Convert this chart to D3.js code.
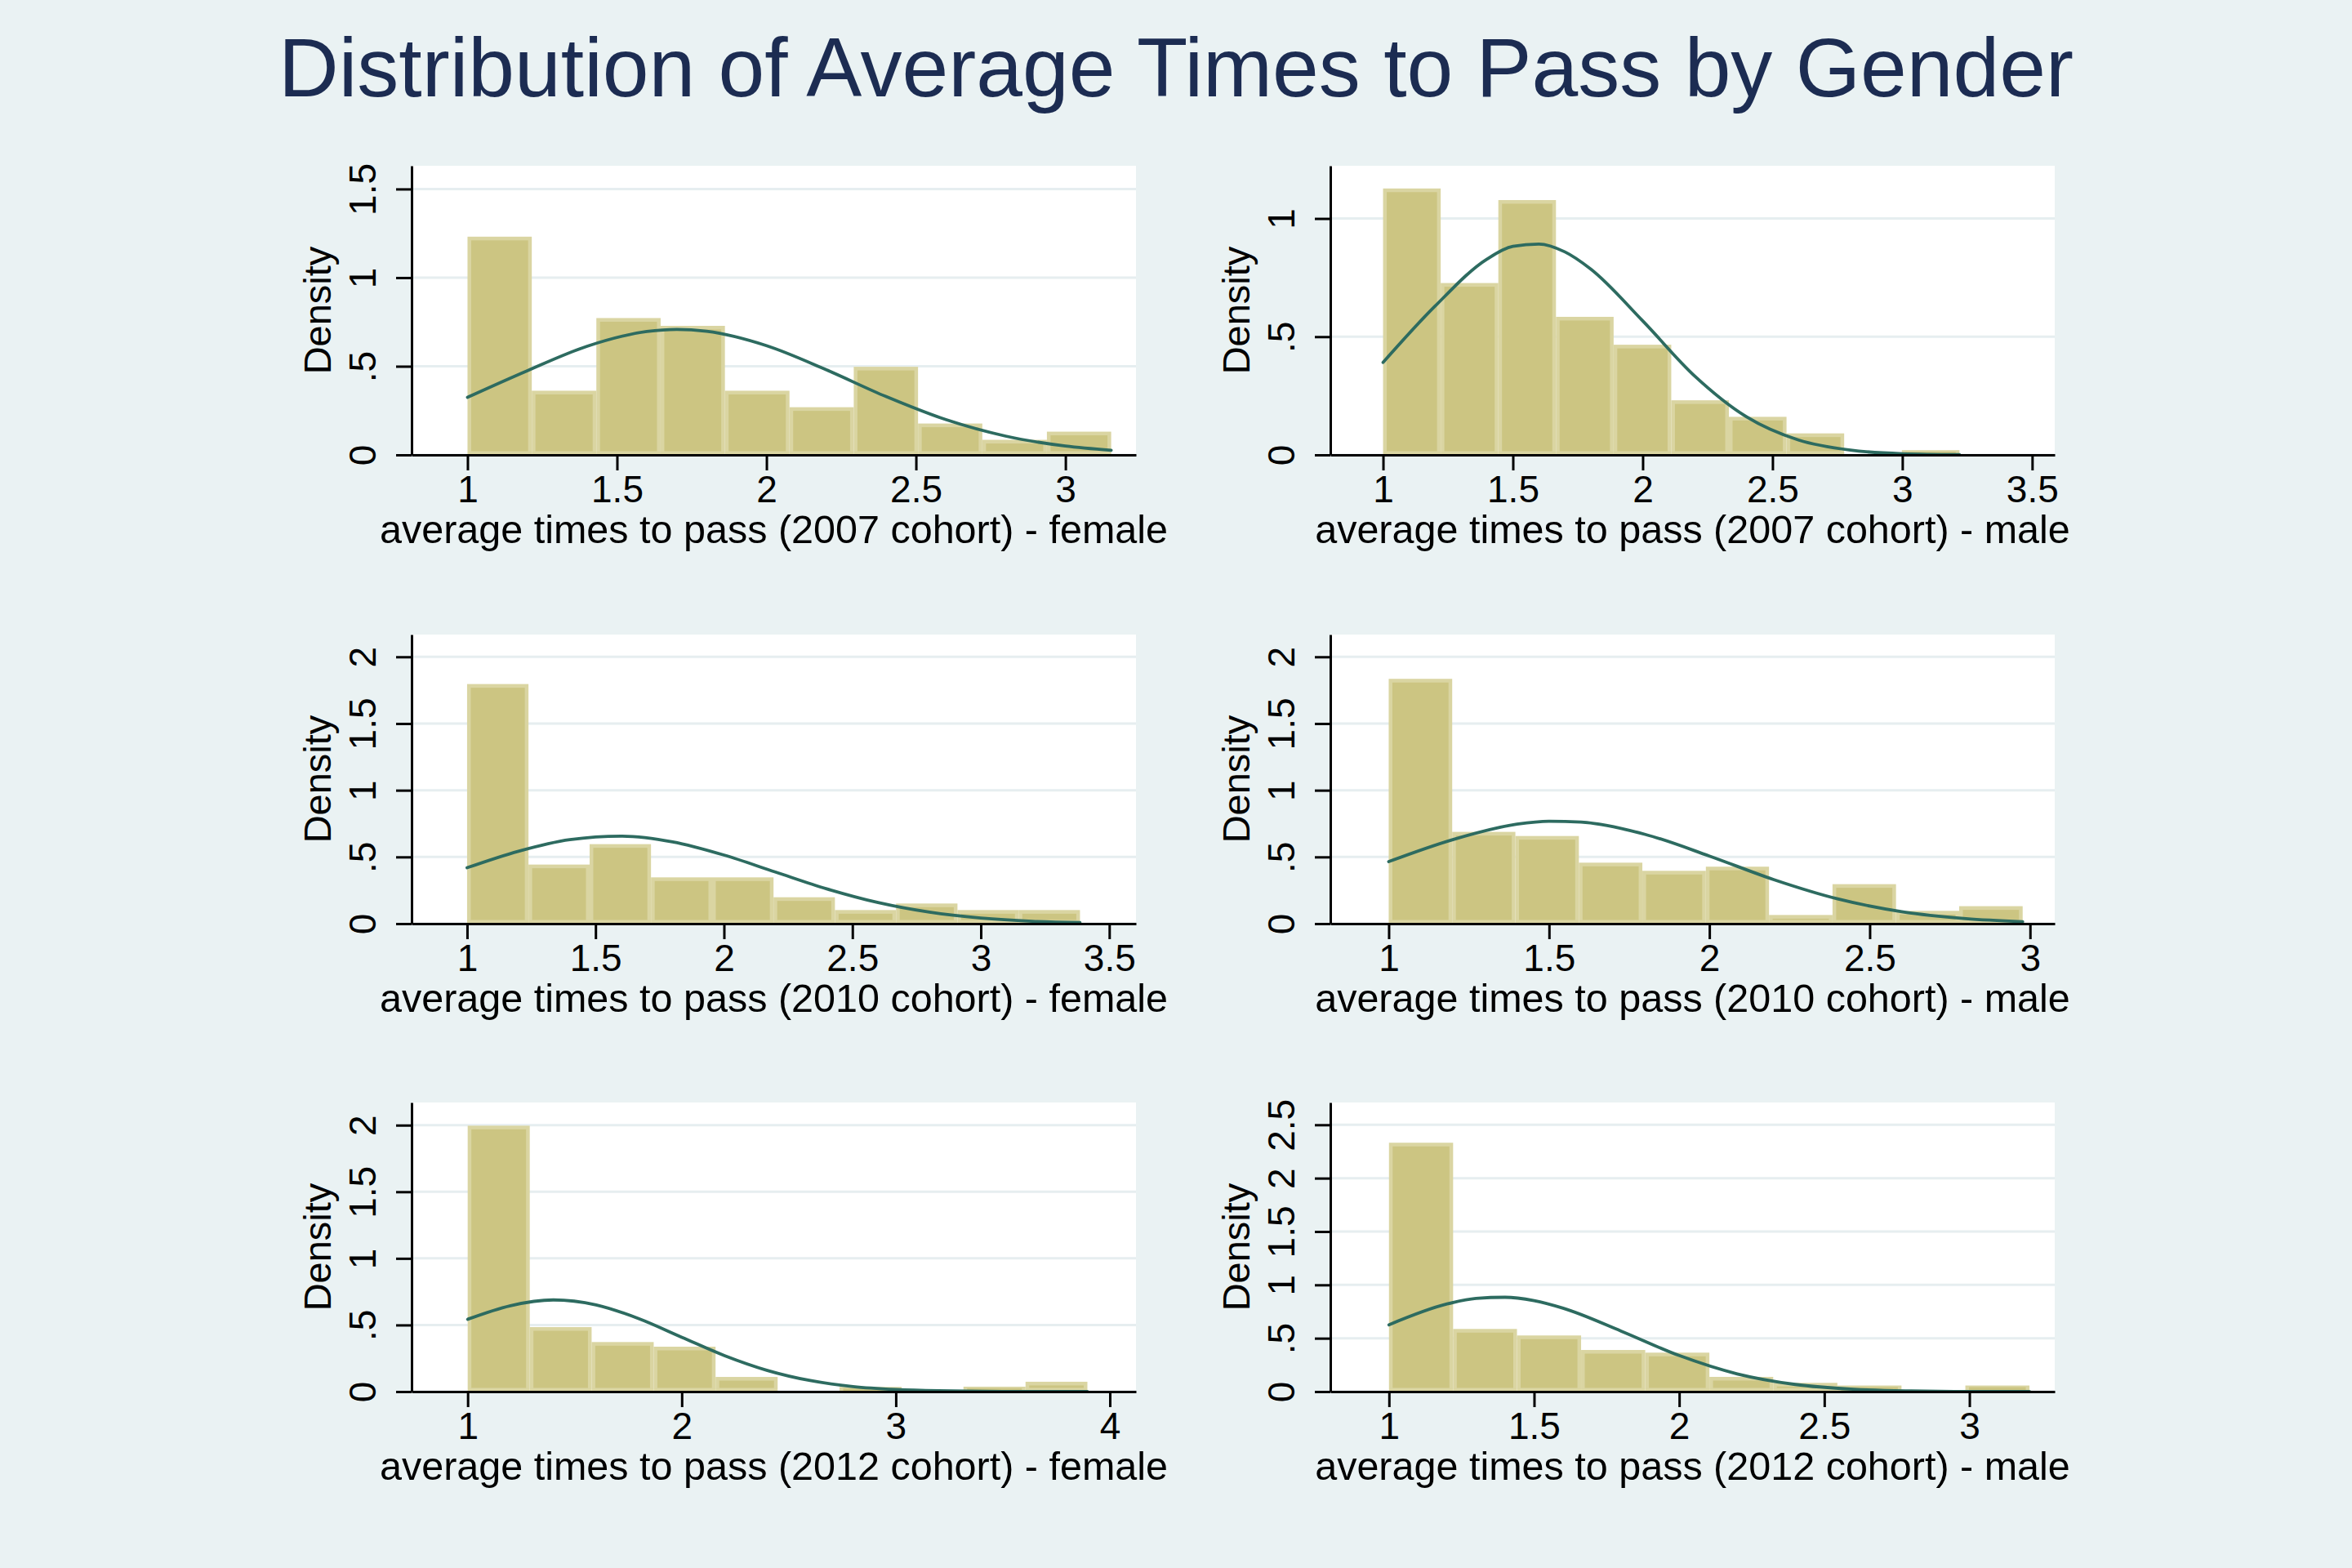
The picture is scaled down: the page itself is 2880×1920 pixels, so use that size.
<!DOCTYPE html>
<html><head><meta charset="utf-8">
<script src="https://cdn.jsdelivr.net/npm/d3@7"></script>
<style>html,body{margin:0;padding:0;background:#EAF2F3;} svg{display:block}</style>
</head><body><svg id="chart" width="2880" height="1920"></svg>
<script>
// ---------------- DATA ----------------
const chartTitle = "Distribution of Average Times to Pass by Gender";
const yAxisTitle = "Density";
const panelLabels = [
  "average times to pass (2007 cohort) - female",
  "average times to pass (2007 cohort) - male",
  "average times to pass (2010 cohort) - female",
  "average times to pass (2010 cohort) - male",
  "average times to pass (2012 cohort) - female",
  "average times to pass (2012 cohort) - male"
];

// 2007 female
const edges07F = [1, 1.215, 1.431, 1.646, 1.861, 2.077, 2.292, 2.507, 2.722, 2.938, 3.153];
const dens07F  = [1.231, 0.362, 0.772, 0.728, 0.362, 0.269, 0.497, 0.177, 0.085, 0.131];
const curveX07F = [1.0, 1.2, 1.4, 1.6, 1.7, 1.8, 2.0, 2.2, 2.4, 2.6, 2.8, 3.0, 3.153];
const curveY07F = [0.325, 0.475, 0.613, 0.696, 0.708, 0.697, 0.616, 0.480, 0.329, 0.199, 0.106, 0.050, 0.026];
const xTicks07F = [1, 1.5, 2, 2.5, 3];
const xLabels07F = ["1", "1.5", "2", "2.5", "3"];
const yTicks07F = [0, 0.5, 1, 1.5];
const yLabels07F = ["0", ".5", "1", "1.5"];
const xRange07F = [0.813, 3.236];
const yRange07F = [0, 1.631];

// 2007 male
const edges07M = [1, 1.222, 1.444, 1.666, 1.888, 2.110, 2.332, 2.554, 2.776, 2.998, 3.220];
const dens07M  = [1.127, 0.727, 1.078, 0.584, 0.466, 0.231, 0.161, 0.091, 0, 0.020];
const curveX07M = [1.0, 1.2, 1.4, 1.5, 1.6, 1.7, 1.8, 2.0, 2.2, 2.4, 2.6, 2.8, 3.0, 3.22];
const curveY07M = [0.391, 0.629, 0.828, 0.882, 0.892, 0.859, 0.786, 0.567, 0.334, 0.161, 0.063, 0.020, 0.005, 0.001];
const xTicks07M = [1, 1.5, 2, 2.5, 3, 3.5];
const xLabels07M = ["1", "1.5", "2", "2.5", "3", "3.5"];
const yTicks07M = [0, 0.5, 1];
const yLabels07M = ["0", ".5", "1"];
const xRange07M = [0.797, 3.587];
const yRange07M = [0, 1.223];

// 2010 female
const edges10F = [1, 1.239, 1.477, 1.716, 1.954, 2.193, 2.432, 2.670, 2.909, 3.147, 3.386];
const dens10F  = [1.796, 0.443, 0.596, 0.347, 0.347, 0.198, 0.102, 0.151, 0.102, 0.102];
const curveX10F = [1.0, 1.2, 1.4, 1.6, 1.8, 2.0, 2.2, 2.4, 2.6, 2.8, 3.0, 3.2, 3.386];
const curveY10F = [0.419, 0.543, 0.630, 0.656, 0.613, 0.514, 0.387, 0.261, 0.158, 0.086, 0.042, 0.018, 0.008];
const xTicks10F = [1, 1.5, 2, 2.5, 3, 3.5];
const xLabels10F = ["1", "1.5", "2", "2.5", "3", "3.5"];
const yTicks10F = [0, 0.5, 1, 1.5, 2];
const yLabels10F = ["0", ".5", "1", "1.5", "2"];
const xRange10F = [0.784, 3.604];
const yRange10F = [0, 2.167];

// 2010 male
const edges10M = [1, 1.198, 1.395, 1.593, 1.791, 1.989, 2.186, 2.384, 2.582, 2.779, 2.977];
const dens10M  = [1.835, 0.688, 0.657, 0.457, 0.396, 0.427, 0.065, 0.296, 0.096, 0.131];
const curveX10M = [1.0, 1.2, 1.4, 1.5, 1.6, 1.8, 2.0, 2.2, 2.4, 2.6, 2.8, 2.977];
const curveY10M = [0.465, 0.630, 0.746, 0.768, 0.761, 0.669, 0.507, 0.331, 0.186, 0.090, 0.038, 0.015];
const xTicks10M = [1, 1.5, 2, 2.5, 3];
const xLabels10M = ["1", "1.5", "2", "2.5", "3"];
const yTicks10M = [0, 0.5, 1, 1.5, 2];
const yLabels10M = ["0", ".5", "1", "1.5", "2"];
const xRange10M = [0.818, 3.077];
const yRange10M = [0, 2.167];

// 2012 female
const edges12F = [1, 1.290, 1.579, 1.869, 2.158, 2.448, 2.737, 3.027, 3.316, 3.606, 3.895];
const dens12F  = [1.996, 0.484, 0.372, 0.337, 0.110, 0, 0.035, 0, 0.037, 0.074];
const curveX12F = [1.0, 1.2, 1.4, 1.6, 1.8, 2.0, 2.2, 2.4, 2.6, 2.8, 3.0, 3.2, 3.5, 3.895];
const curveY12F = [0.543, 0.645, 0.688, 0.651, 0.547, 0.408, 0.270, 0.159, 0.083, 0.038, 0.016, 0.006, 0.001, 0.000];
const xTicks12F = [1, 2, 3, 4];
const xLabels12F = ["1", "2", "3", "4"];
const yTicks12F = [0, 0.5, 1, 1.5, 2];
const yLabels12F = ["0", ".5", "1", "1.5", "2"];
const xRange12F = [0.738, 4.122];
const yRange12F = [0, 2.170];

// 2012 male
const edges12M = [1, 1.221, 1.441, 1.662, 1.883, 2.104, 2.324, 2.545, 2.766, 2.986, 3.207];
const dens12M  = [2.332, 0.587, 0.526, 0.390, 0.365, 0.138, 0.082, 0.057, 0, 0.057];
const curveX12M = [1.0, 1.2, 1.3, 1.4, 1.5, 1.6, 1.8, 2.0, 2.2, 2.4, 2.6, 2.8, 3.0, 3.207];
const curveY12M = [0.626, 0.821, 0.873, 0.884, 0.852, 0.781, 0.567, 0.338, 0.166, 0.067, 0.022, 0.006, 0.001, 0.000];
const xTicks12M = [1, 1.5, 2, 2.5, 3];
const xLabels12M = ["1", "1.5", "2", "2.5", "3"];
const yTicks12M = [0, 0.5, 1, 1.5, 2, 2.5];
const yLabels12M = ["0", ".5", "1", "1.5", "2", "2.5"];
const xRange12M = [0.798, 3.294];
const yRange12M = [0, 2.709];

const panels = [
  {label: panelLabels[0], edges: edges07F, dens: dens07F, cx: curveX07F, cy: curveY07F, xt: xTicks07F, xl: xLabels07F, yt: yTicks07F, yl: yLabels07F, xr: xRange07F, yr: yRange07F},
  {label: panelLabels[1], edges: edges07M, dens: dens07M, cx: curveX07M, cy: curveY07M, xt: xTicks07M, xl: xLabels07M, yt: yTicks07M, yl: yLabels07M, xr: xRange07M, yr: yRange07M},
  {label: panelLabels[2], edges: edges10F, dens: dens10F, cx: curveX10F, cy: curveY10F, xt: xTicks10F, xl: xLabels10F, yt: yTicks10F, yl: yLabels10F, xr: xRange10F, yr: yRange10F},
  {label: panelLabels[3], edges: edges10M, dens: dens10M, cx: curveX10M, cy: curveY10M, xt: xTicks10M, xl: xLabels10M, yt: yTicks10M, yl: yLabels10M, xr: xRange10M, yr: yRange10M},
  {label: panelLabels[4], edges: edges12F, dens: dens12F, cx: curveX12F, cy: curveY12F, xt: xTicks12F, xl: xLabels12F, yt: yTicks12F, yl: yLabels12F, xr: xRange12F, yr: yRange12F},
  {label: panelLabels[5], edges: edges12M, dens: dens12M, cx: curveX12M, cy: curveY12M, xt: xTicks12M, xl: xLabels12M, yt: yTicks12M, yl: yLabels12M, xr: xRange12M, yr: yRange12M}
];

// ---------------- LAYOUT / STYLE ----------------
const FONT = "'Liberation Sans', Arial, Helvetica, sans-serif";
const BG = "#EAF2F3";
const BAR_FILL = "#CCC582";
const BAR_EDGE = "#DAD5A2";
const CURVE = "#2D6B60";
const GRID = "#E6EEF0";
const TITLE_COLOR = "#1C2C52";
const colX = [[504, 1391], [1629, 2516]];
const rowY = [[203, 557], [777, 1131], [1350, 1704]];
const EDGE_W = 4.5;

const svg = d3.select("#chart");
svg.append("rect").attr("width", 2880).attr("height", 1920).attr("fill", BG);

svg.append("text")
  .attr("x", 1440).attr("y", 118)
  .attr("text-anchor", "middle")
  .attr("font-family", FONT).attr("font-size", 102)
  .attr("fill", TITLE_COLOR)
  .text(chartTitle);

panels.forEach((p, i) => {
  const [x0, x1] = colX[i % 2];
  const [y0, y1] = rowY[Math.floor(i / 2)];
  const x = d3.scaleLinear().domain(p.xr).range([x0, x1]);
  const y = d3.scaleLinear().domain(p.yr).range([y1, y0]);
  const g = svg.append("g");

  // plot region
  g.append("rect").attr("x", x0).attr("y", y0).attr("width", x1 - x0).attr("height", y1 - y0).attr("fill", "#FFFFFF");

  // grid
  g.selectAll(".grid").data(p.yt).join("line")
    .attr("x1", x0).attr("x2", x1)
    .attr("y1", d => y(d)).attr("y2", d => y(d))
    .attr("stroke", GRID).attr("stroke-width", 3);

  // bars
  const bins = p.dens.map((d, k) => ({a: p.edges[k], b: p.edges[k + 1], h: d})).filter(d => d.h > 0);
  g.selectAll(".barO").data(bins).join("rect")
    .attr("x", d => x(d.a)).attr("width", d => x(d.b) - x(d.a))
    .attr("y", d => y(d.h)).attr("height", d => y(0) - y(d.h))
    .attr("fill", BAR_EDGE);
  g.selectAll(".barI").data(bins.filter(d => y(0) - y(d.h) > 2 * EDGE_W)).join("rect")
    .attr("x", d => x(d.a) + EDGE_W).attr("width", d => x(d.b) - x(d.a) - 2 * EDGE_W)
    .attr("y", d => y(d.h) + EDGE_W).attr("height", d => y(0) - y(d.h) - 2 * EDGE_W)
    .attr("fill", BAR_FILL);
  g.selectAll(".barT").data(bins.filter(d => y(0) - y(d.h) <= 2 * EDGE_W)).join("rect")
    .attr("x", d => x(d.a) + EDGE_W).attr("width", d => x(d.b) - x(d.a) - 2 * EDGE_W)
    .attr("y", d => y(d.h) + 2).attr("height", d => Math.max(0, y(0) - y(d.h) - 3))
    .attr("fill", BAR_FILL);

  // normal density curve
  const pts = p.cx.map((v, k) => [v, p.cy[k]]);
  g.append("path").datum(pts)
    .attr("d", d3.line().x(d => x(d[0])).y(d => y(d[1])).curve(d3.curveMonotoneX))
    .attr("fill", "none").attr("stroke", CURVE).attr("stroke-width", 3.8)
    .attr("stroke-linejoin", "round").attr("stroke-linecap", "round");

  // x axis
  const xa = g.append("g").attr("transform", `translate(0,${y1})`)
    .call(d3.axisBottom(x).tickValues(p.xt).tickFormat((d, k) => p.xl[k]).tickSizeInner(19).tickSizeOuter(0).tickPadding(8));
  xa.select(".domain").attr("stroke", "#000").attr("stroke-width", 3);
  xa.selectAll(".tick line").attr("stroke", "#000").attr("stroke-width", 3);
  xa.selectAll(".tick text")
    .attr("y", 58).attr("dy", 0)
    .attr("font-family", FONT).attr("font-size", 46).attr("fill", "#000");

  // y axis
  const ya = g.append("g").attr("transform", `translate(${x0},0)`)
    .call(d3.axisLeft(y).tickValues(p.yt).tickFormat((d, k) => p.yl[k]).tickSizeInner(19).tickSizeOuter(0));
  ya.select(".domain").attr("stroke", "#000").attr("stroke-width", 3);
  ya.selectAll(".tick line").attr("stroke", "#000").attr("stroke-width", 3);
  ya.selectAll(".tick text")
    .attr("x", 0).attr("dy", 0)
    .attr("transform", "translate(-44,0) rotate(-90)")
    .attr("text-anchor", "middle")
    .attr("font-family", FONT).attr("font-size", 46).attr("fill", "#000");

  // axis titles
  g.append("text")
    .attr("x", (x0 + x1) / 2).attr("y", y1 + 108)
    .attr("text-anchor", "middle")
    .attr("font-family", FONT).attr("font-size", 48.5).attr("fill", "#000")
    .text(p.label);
  g.append("text")
    .attr("transform", `translate(${x0 - 99},${(y0 + y1) / 2}) rotate(-90)`)
    .attr("text-anchor", "middle")
    .attr("font-family", FONT).attr("font-size", 47).attr("fill", "#000")
    .text(yAxisTitle);
});
</script></body></html>
